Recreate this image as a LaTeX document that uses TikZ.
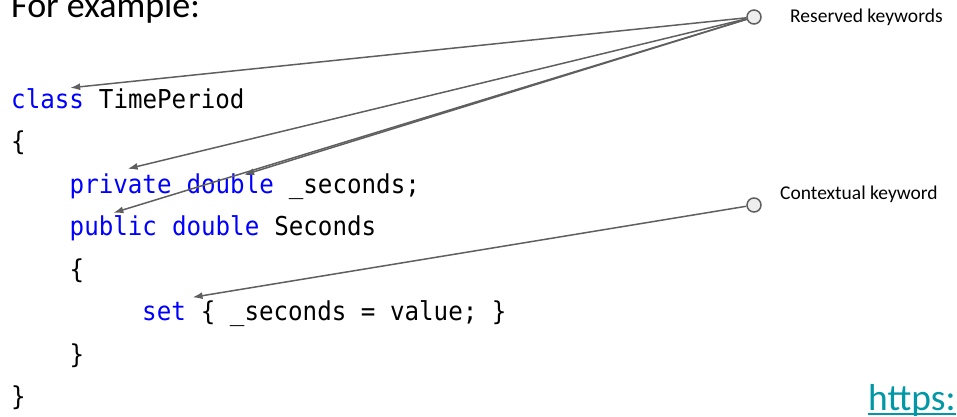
\documentclass[tikz,border=0pt]{standalone}
\usepackage{fontspec}
\usetikzlibrary{positioning}
\usetikzlibrary{arrows.meta}
\newfontfamily\codefont[FakeStretch=0.93]{DejaVu Sans Mono}
\newfontfamily\slidefont{Carlito}
\definecolor{keywordColor}{rgb}{0,0,1}
\definecolor{arrowColor}{RGB}{95,95,95}
\definecolor{dotColor}{RGB}{238,238,238}
\definecolor{linkColor}{RGB}{0,151,167}

\begin{document}
\begin{tikzpicture}[x=1pt,y=-1pt]

          \useasboundingbox (0,0) rectangle (957,416);
          \clip (0,0) rectangle (957,416);

          \tikzstyle{codeNode} = [anchor=base west, inner sep=0, text height=20pt, text depth=5pt, font=\codefont\fontsize{26}{26}\selectfont];
          \tikzstyle{keywordNode} = [codeNode, text=keywordColor];
          \tikzstyle{labelNode} = [anchor=base west, inner sep=0, font=\slidefont\fontsize{19.5}{19.5}\selectfont];
          \tikzstyle{titleNode} = [anchor=base west, inner sep=0, font=\slidefont\fontsize{36}{36}\selectfont];
          \tikzstyle{dotNode} = [circle, draw=arrowColor, fill=dotColor, line width=1.5pt, minimum size=14pt, inner sep=0];
          \tikzstyle{pointerEdge} = [arrowColor, line width=1.5pt, -{Latex[length=10pt,width=7pt]}];

          \node[titleNode] (title) at (11,17) {For example:};

          \node[keywordNode] (kwclass) at (11,108) {class};
          \node[codeNode] (classname) at (kwclass.base east) {\ TimePeriod};
          \node[codeNode] (open) at (11,150.5) {\{};
          \node[keywordNode] (kwprivate) at (69.5,193) {private};
          \node[keywordNode] (kwdoubleA) at (kwprivate.base east) {\ double};
          \node[codeNode] (field) at (kwdoubleA.base east) {\ \_seconds;};
          \node[keywordNode] (kwpublic) at (69.5,235.5) {public};
          \node[keywordNode] (kwdoubleB) at (kwpublic.base east) {\ double};
          \node[codeNode] (prop) at (kwdoubleB.base east) {\ Seconds};
          \node[codeNode] (propopen) at (69.5,278) {\{};
          \node[keywordNode] (kwset) at (142,320.5) {set};
          \node[codeNode] (setbody) at (kwset.base east) {\ \{ \_seconds = value; \}};
          \node[codeNode] (propclose) at (69.5,363) {\}};
          \node[codeNode] (close) at (11,405.5) {\}};

          \node[dotNode] (reserved) at (754,17) {};
          \node[labelNode] (reservedlabel) at (790,22) {Reserved keywords};
          \node[dotNode] (contextual) at (754,205) {};
          \node[labelNode] (contextuallabel) at (780,199) {Contextual keyword};

          \node[titleNode, font=\slidefont\fontsize{37.5}{37.5}\selectfont, text=linkColor] (link) at (868,410) {https:};
          \draw[linkColor, line width=2pt] ([yshift=-3.5pt]link.base west) -- ([yshift=-3.5pt]link.base east);

          \draw[pointerEdge] (reserved) -- ([xshift=-14pt]kwclass.north east);
          \draw[pointerEdge] (reserved) -- ([xshift=7pt,yshift=4pt]kwprivate.north);
          \draw[pointerEdge] (reserved) -- ([xshift=-30pt,yshift=-2pt]kwdoubleA.north east);
          \draw[pointerEdge] (reserved) -- ([yshift=2.5pt]kwpublic.north);
          \draw[pointerEdge] (contextual) -- ([xshift=6.5pt,yshift=3pt]kwset.north east);
        \end{tikzpicture}
\end{document}
